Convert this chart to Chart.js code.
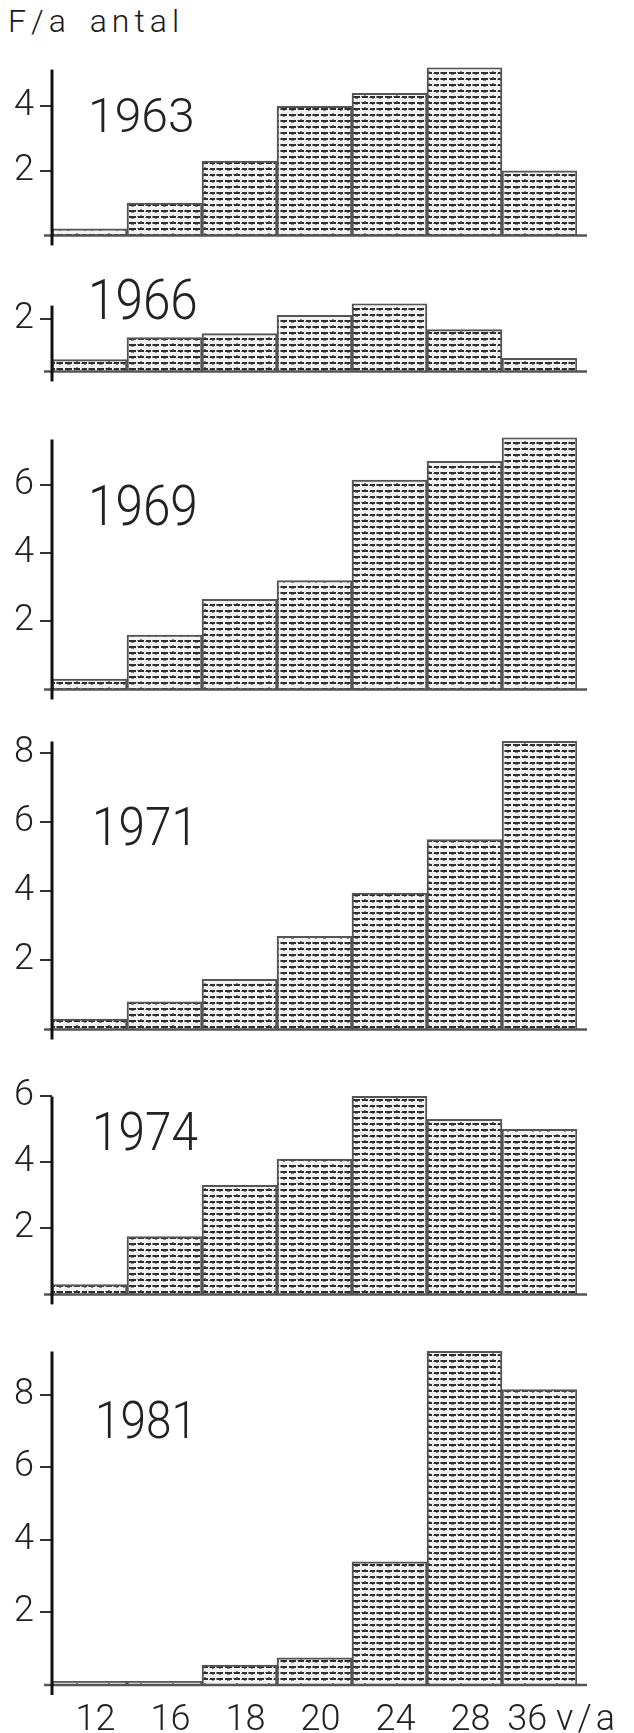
<!DOCTYPE html>
<html><head><meta charset="utf-8">
<script src="https://cdn.jsdelivr.net/npm/chart.js@4.4.1/dist/chart.umd.min.js"></script>
<style>
html,body{margin:0;padding:0;background:#fff;}
#wrap{position:relative;width:634px;height:1733px;overflow:hidden;background:#fff;}
#wrap canvas{position:absolute;left:0;}
#ytitle{position:absolute;left:8px;top:2px;font:300 32px Roboto,sans-serif;letter-spacing:5px;word-spacing:6px;color:#1a1a1a;white-space:nowrap;}
</style></head><body>
<div id="wrap"><div id="ytitle">F/a antal</div></div>
<script>
// ---- data ----
const categories = ['12', '16', '18', '20', '24', '28', '36'];
const xUnit = 'v/a';
const years = ['1963', '1966', '1969', '1971', '1974', '1981'];
const values1963 = [0.2, 1.0, 2.3, 4.0, 4.4, 5.2, 2.0];
const values1966 = [0.45, 1.3, 1.45, 2.15, 2.6, 1.6, 0.5];
const values1969 = [0.3, 1.6, 2.65, 3.2, 6.15, 6.7, 7.4];
const values1971 = [0.3, 0.8, 1.45, 2.7, 3.95, 5.5, 8.35];
const values1974 = [0.3, 1.75, 3.3, 4.1, 6.0, 5.3, 5.0];
const values1981 = [0.1, 0.1, 0.55, 0.75, 3.4, 9.2, 8.15];
const ticks1963 = [2, 4];
const ticks1966 = [2];
const ticks1969 = [2, 4, 6];
const ticks1971 = [2, 4, 6, 8];
const ticks1974 = [2, 4, 6];
const ticks1981 = [2, 4, 6, 8];
const axisMax = [5.2, 2.6, 7.4, 8.4, 6.05, 9.25];

// ---- layout (pixels) ----
const PX_PER_UNIT = 38.2;
const zeroLines = [249, 385, 703, 1043, 1308, 1685];
const yearPos = [[88, 132], [88, 319], [88, 525], [92, 845], [92, 1150], [95, 1438]];
const yearSize = [48, 55, 55, 53, 53, 51];
const PAD_TOP = 10;
const AXIS_LEFT = 52, AXIS_RIGHT = 577, W = 634;
const FONT = 'Roboto, "Liberation Sans", sans-serif';

const allValues = [values1963, values1966, values1969, values1971, values1974, values1981];
const allTicks = [ticks1963, ticks1966, ticks1969, ticks1971, ticks1974, ticks1981];

Chart.defaults.font.family = FONT;
Chart.defaults.color = '#222';

function makePattern() {
  const c = document.createElement('canvas');
  c.width = 32; c.height = 6;
  const g = c.getContext('2d');
  g.fillStyle = '#f2f2f2'; g.fillRect(0, 0, 32, 6);
  g.fillStyle = '#2e2e2e';
  g.fillRect(1, 2, 7, 2); g.fillRect(10, 2, 6, 2); g.fillRect(18, 2, 5, 2); g.fillRect(25, 2, 6, 2);
  g.fillStyle = '#8a8a8a';
  g.fillRect(9, 2, 1, 1); g.fillRect(17, 3, 1, 1); g.fillRect(24, 2, 1, 2);
  g.fillRect(3, 4, 3, 1); g.fillRect(20, 4, 2, 1); g.fillRect(12, 1, 2, 1); g.fillRect(27, 4, 2, 1);
  return g.createPattern(c, 'repeat');
}

const decor = {
  id: 'decor',
  afterDraw(chart, args, o) {
    const {ctx, chartArea: a} = chart;
    ctx.save();
    ctx.strokeStyle = '#555'; ctx.lineWidth = 2.5;
    ctx.beginPath();
    ctx.moveTo(a.left - 8, a.bottom); ctx.lineTo(a.right + 10, a.bottom);
    ctx.stroke();
    ctx.strokeStyle = '#111'; ctx.lineWidth = 3;
    ctx.beginPath();
    ctx.moveTo(a.left, a.top + 2); ctx.lineTo(a.left, a.bottom + 10);
    ctx.stroke();
    ctx.font = '300 ' + o.size + 'px ' + FONT;
    ctx.fillStyle = '#222';
    ctx.textBaseline = 'alphabetic'; ctx.textAlign = 'left';
    ctx.save();
    ctx.translate(o.x, o.y);
    ctx.scale(o.size > 50 ? 0.9 : 1, 1);
    ctx.fillText(o.year, 0, 0);
    ctx.restore();
    if (o.unit) {
      const xs = chart.scales.x;
      const items = xs.getLabelItems();
      const last = items[items.length - 1];
      ctx.font = '300 36px ' + FONT;
      const wFull = ctx.measureText(last.label).width;
      const wDigits = ctx.measureText(last.label.trim()).width;
      const [tx, ty] = last.options.translation;
      ctx.textBaseline = last.options.textBaseline;
      ctx.textAlign = 'left';
      ctx.letterSpacing = '4px';
      ctx.fillText(o.unit, tx - wFull / 2 + wDigits + 9, ty + (last.textOffset || 0));
    }
    ctx.restore();
  }
};

const wrap = document.getElementById('wrap');
const pattern = makePattern();

years.forEach((yr, i) => {
  const isLast = i === years.length - 1;
  const plotH = axisMax[i] * PX_PER_UNIT;
  const hx = isLast ? 48 : 14;
  const top = zeroLines[i] - plotH - PAD_TOP;
  const H = Math.round(PAD_TOP + plotH + hx);
  const cv = document.createElement('canvas');
  cv.width = W; cv.height = H;
  cv.style.top = Math.round(top) + 'px';
  wrap.appendChild(cv);
  const tickVals = allTicks[i];
  new Chart(cv, {
    type: 'bar',
    data: {
      labels: categories,
      datasets: [{
        data: allValues[i],
        backgroundColor: pattern,
        borderColor: '#555',
        borderWidth: 2,
        barPercentage: 1,
        categoryPercentage: 1
      }]
    },
    options: {
      responsive: false,
      devicePixelRatio: 1,
      animation: false,
      events: [],
      layout: {padding: {top: PAD_TOP, right: W - AXIS_RIGHT, left: 0, bottom: 0}},
      plugins: {
        legend: {display: false},
        tooltip: {enabled: false},
        decor: {year: yr, size: yearSize[i], x: yearPos[i][0], y: yearPos[i][1] - Math.round(top), unit: isLast ? xUnit : null}
      },
      scales: {
        x: {
          display: true,
          offset: true,
          grid: {display: false, drawTicks: false},
          border: {display: false},
          ticks: {
            display: isLast, font: {size: 36, weight: '300'}, color: '#222', padding: 14, labelOffset: 6,
            maxRotation: 0, autoSkip: false,
            callback(v, idx) { const l = categories[idx]; return idx === categories.length - 1 ? l + '\u2003' : l; }
          },
          afterFit(s) { s.height = hx; }
        },
        y: {
          min: 0,
          max: axisMax[i],
          afterBuildTicks(s) { s.ticks = tickVals.map(v => ({value: v})); },
          afterFit(s) { s.width = AXIS_LEFT; },
          grid: {drawOnChartArea: false, drawTicks: true, tickLength: 12, color: '#333', lineWidth: 2},
          border: {display: false},
          ticks: {font: {size: 36, weight: '300'}, color: '#222', padding: 6}
        }
      }
    },
    plugins: [decor]
  });
});
</script>
</body></html>
